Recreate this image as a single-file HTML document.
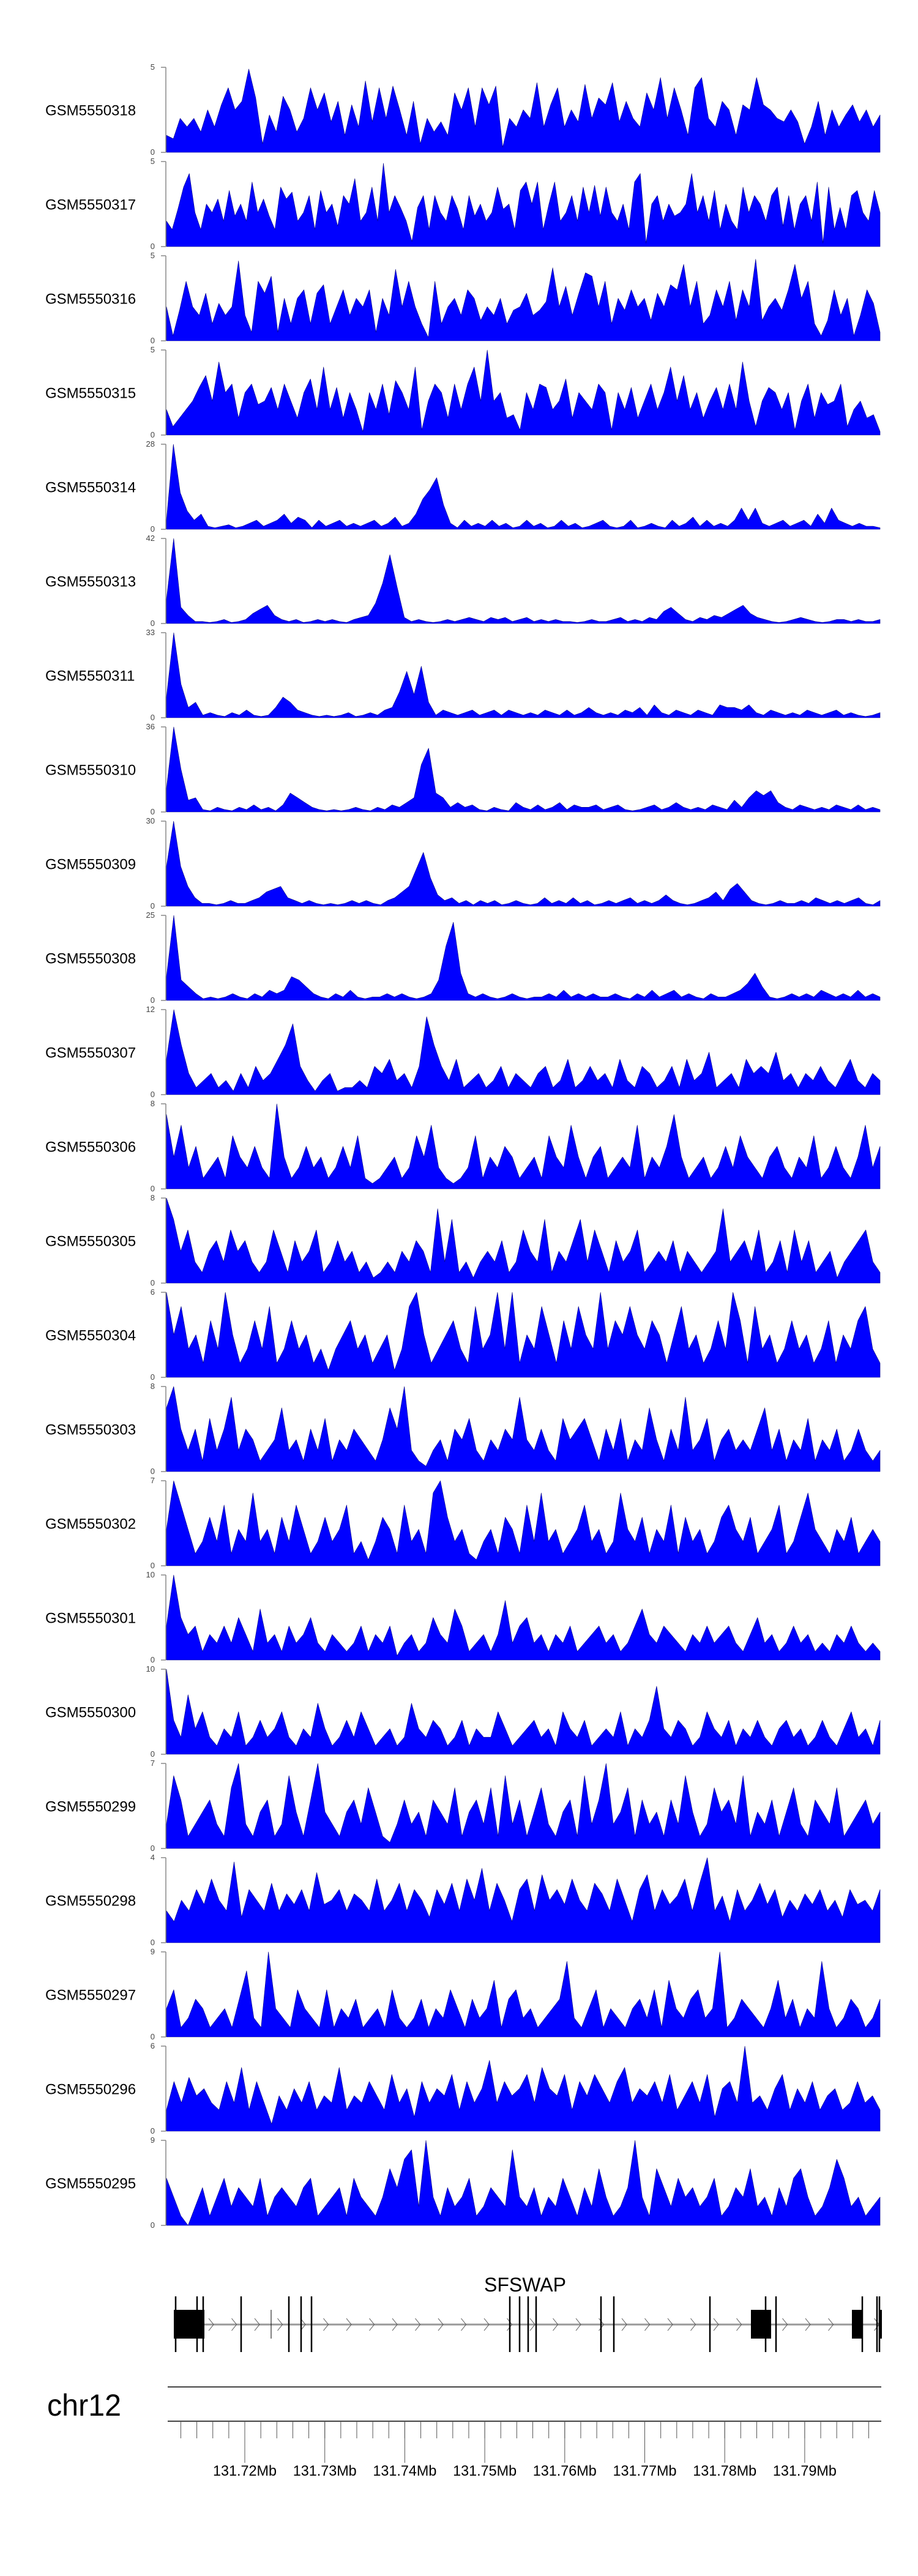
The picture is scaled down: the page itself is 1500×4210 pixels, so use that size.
<!DOCTYPE html>
<html><head><meta charset="utf-8">
<style>
html,body{margin:0;padding:0;background:#fff;}
svg{display:block;font-family:"Liberation Sans",Arial,sans-serif;}
</style></head>
<body>
<svg id="fig" width="1500" height="4210" viewBox="0 0 1500 4210" xmlns="http://www.w3.org/2000/svg">
<g id="tracks"></g>
<g id="gene">
  <text x="858" y="3745" font-size="32" text-anchor="middle" fill="#000">SFSWAP</text>
  <line x1="334" y1="3799" x2="1440" y2="3799" stroke="#999" stroke-width="3"/>
  <g id="chev"></g>
  <g id="exons"></g>
</g>
<g id="ideo">
  <text x="77" y="3948" font-size="50" fill="#000" textLength="121" lengthAdjust="spacingAndGlyphs">chr12</text>
  <line x1="274" y1="3901" x2="1440" y2="3901" stroke="#444" stroke-width="2"/>
  <line x1="274" y1="3957" x2="1440" y2="3957" stroke="#444" stroke-width="2"/>
  <g id="gticks"></g>
</g>
</svg>
<script>
const NS="http://www.w3.org/2000/svg";
const sampleNames=["GSM5550318","GSM5550317","GSM5550316","GSM5550315","GSM5550314","GSM5550313","GSM5550311","GSM5550310","GSM5550309","GSM5550308","GSM5550307","GSM5550306","GSM5550305","GSM5550304","GSM5550303","GSM5550302","GSM5550301","GSM5550300","GSM5550299","GSM5550298","GSM5550297","GSM5550296","GSM5550295"];
const yMax=[5,5,5,5,28,42,33,36,30,25,12,8,8,6,8,7,10,10,7,4,9,6,9];
const s318=[1.0,0.8,2.0,1.5,2.0,1.2,2.5,1.5,2.8,3.8,2.5,3.0,4.9,3.2,0.5,2.2,1.2,3.3,2.5,1.2,2.0,3.8,2.5,3.5,1.8,3.0,1.0,2.8,1.5,4.2,1.8,3.8,2.0,3.9,2.5,1.0,3.0,0.5,2.0,1.2,1.8,1.0,3.5,2.5,3.8,1.5,3.8,2.8,3.9,0.3,2.0,1.5,2.5,2.0,4.1,1.5,2.8,3.8,1.5,2.5,1.8,4.0,2.0,3.2,2.8,4.1,1.8,3.0,2.0,1.5,3.5,2.5,4.4,2.0,3.8,2.5,1.0,3.8,4.4,2.0,1.5,3.0,2.5,1.0,2.8,2.5,4.4,2.8,2.5,2.0,1.8,2.5,1.8,0.5,1.5,3.0,1.0,2.5,1.5,2.2,2.8,1.8,2.5,1.5,2.2];
const s317=[1.5,1.0,2.2,3.5,4.3,2.0,1.0,2.5,2.0,2.8,1.5,3.3,1.8,2.5,1.5,3.8,2.0,2.8,1.8,1.0,3.5,2.8,3.2,1.5,2.0,3.0,1.0,3.3,2.0,2.5,1.2,3.0,2.5,4.0,1.5,2.0,3.5,1.5,4.9,2.0,3.0,2.3,1.5,0.3,2.3,3.0,1.0,3.0,2.0,1.5,3.0,2.2,1.0,3.0,1.8,2.5,1.5,2.0,3.5,2.2,2.5,1.0,3.3,3.8,2.5,3.8,1.0,2.5,3.8,1.5,2.0,3.0,1.5,3.5,2.0,3.6,1.8,3.5,2.0,1.5,2.5,1.0,3.8,4.3,0.2,2.5,3.0,1.5,2.5,1.8,2.0,2.5,4.3,2.0,3.0,1.5,3.3,1.0,2.5,1.5,1.0,3.5,2.0,3.0,2.5,1.5,3.0,3.5,1.2,3.0,1.0,2.5,3.0,1.5,3.8,0.2,3.5,1.0,2.3,1.0,3.0,3.3,2.0,1.5,3.3,2.0];
const s316=[2.0,0.3,1.8,3.5,2.0,1.5,2.8,1.0,2.2,1.5,2.0,4.7,1.5,0.5,3.5,2.8,3.8,0.5,2.5,1.0,2.5,3.0,1.0,2.8,3.3,1.0,2.0,3.0,1.5,2.5,2.0,3.0,0.5,2.5,1.5,4.2,2.0,3.5,2.0,1.0,0.2,3.5,1.0,2.0,2.5,1.5,3.0,2.5,1.2,2.0,1.5,2.5,1.0,1.8,2.0,2.8,1.5,1.8,2.3,4.3,2.0,3.2,1.5,2.8,4.0,3.8,2.0,3.5,1.0,2.5,1.8,3.0,2.0,2.5,1.2,2.8,2.0,3.3,3.0,4.5,2.0,3.5,1.0,1.5,3.0,2.0,3.5,1.2,3.0,2.0,4.8,1.2,2.0,2.5,1.8,3.0,4.5,2.5,3.5,1.0,0.3,1.2,3.0,1.5,2.5,0.3,1.5,3.0,2.2,0.5];
const s315=[1.5,0.5,1.0,1.5,2.0,2.8,3.5,2.0,4.3,2.5,3.0,1.0,2.5,3.0,1.8,2.0,2.8,1.5,3.0,2.0,1.0,2.5,3.3,1.5,4.0,1.5,2.8,1.0,2.5,1.5,0.2,2.5,1.5,3.0,1.2,3.2,2.5,1.5,4.0,0.3,2.0,3.0,2.5,1.0,3.0,1.5,3.0,4.0,2.0,5.0,2.0,2.5,1.0,1.2,0.3,2.5,1.5,3.0,2.8,1.5,2.0,3.3,1.0,2.5,2.0,1.5,3.0,2.5,0.3,2.5,1.5,2.8,1.0,2.0,3.0,1.5,2.5,4.0,2.0,3.5,1.5,2.5,1.0,2.0,2.8,1.5,3.0,1.5,4.3,2.0,0.5,2.0,2.8,2.5,1.5,2.5,0.3,2.0,3.0,1.0,2.5,1.8,2.0,3.0,0.5,1.5,2.0,1.0,1.2,0.2];
const s314=[3,28,12,6,3,5,1,0.5,1,1.5,0.5,1,2,3,1,2,3,5,2,4,3,0.5,3,1,2,3,1,2,1,2,3,1,2,4,1,2,5,10,13,17,8,2,0.5,3,1,2,1,3,1,2,0.5,1,3,1,2,0.5,1,3,1,2,0.5,1,2,3,1,0.5,1,3,0.5,1,2,1,0.5,3,1,2,4,1,3,1,2,1,3,7,3,7,2,1,2,3,1,2,3,1,5,2,7,3,2,1,2,1,1,0.5];
const s313=[12,42,8,4,1,1,0.5,1,2,0.5,1,2,5,7,9,4,2,1,2,0.5,1,2,1,2,1,0.5,2,3,4,10,20,34,18,3,1,2,1,0.5,1,2,1,2,3,2,1,3,2,3,1,2,3,1,2,1,2,1,1,0.5,1,2,1,1,2,3,1,2,1,3,2,6,8,5,2,1,3,2,4,3,5,7,9,5,3,2,1,0.5,1,2,3,2,1,0.5,1,2,2,1,2,1,1,2];
const s311=[8,33,13,4,6,1,2,1,0.5,2,1,3,1,0.5,1,4,8,6,3,2,1,0.5,1,0.5,1,2,0.5,1,2,1,3,4,10,18,9,20,6,1,3,2,1,2,3,1,2,3,1,3,2,1,2,1,3,2,1,3,1,2,4,2,1,2,1,3,2,4,1,5,2,1,3,2,1,3,2,1,5,4,4,3,5,2,1,3,2,1,2,1,3,2,1,2,3,1,2,1,0.5,1,2];
const s310=[10,36,18,5,6,1,0.5,2,1,0.5,2,1,3,1,2,0.5,3,8,6,4,2,1,0.5,1,0.5,1,2,1,0.5,2,1,3,2,4,6,20,27,8,6,2,4,2,3,1,0.5,2,1,0.5,4,2,1,3,1,2,4,1,3,2,2,3,1,2,3,1,0.5,1,2,3,1,2,4,2,1,2,1,3,2,1,5,2,6,9,7,9,4,2,1,3,2,1,2,1,3,2,1,3,1,2,1];
const s309=[14,30,14,7,3,1,1,0.5,1,2,1,1,2,3,5,6,7,3,2,1,2,1,0.5,1,0.5,1,2,1,2,1,0.5,2,3,5,7,13,19,10,4,2,3,1,2,0.5,2,1,2,0.5,1,2,1,0.5,1,3,1,2,1,3,1,2,0.5,1,2,1,2,3,1,2,1,2,4,2,1,0.5,1,2,3,5,2,6,8,5,2,1,0.5,1,2,1,1,2,1,3,2,1,2,1,2,3,1,0.5,2];
const s308=[7,25,6,4,2,0.5,1,0.5,1,2,1,0.5,2,1,3,2,3,7,6,4,2,1,0.5,2,1,3,1,0.5,1,1,2,1,2,1,0.5,1,2,6,16,23,8,2,1,2,1,0.5,1,2,1,0.5,1,1,2,1,3,1,2,1,2,1,1,2,1,0.5,2,1,3,1,2,3,1,2,1,0.5,2,1,1,2,3,5,8,4,1,0.5,1,2,1,2,1,3,2,1,2,1,3,1,2,1];
const s307=[5,12,7,3,1,2,3,1,2,0.5,3,1,4,2,3,5,7,10,4,2,0.5,2,3,0.5,1,1,2,1,4,3,5,2,3,1,4,11,7,4,2,5,1,2,3,1,2,4,1,3,2,1,3,4,1,2,5,1,2,4,2,3,1,5,2,1,4,3,1,2,4,1,5,2,3,6,1,2,3,1,5,3,4,3,6,2,3,1,3,2,4,2,1,3,5,2,1,3,2];
const s306=[7,3,6,2,4,1,2,3,1,5,3,2,4,2,1,8,3,1,2,4,2,3,1,2,4,2,5,1,0.5,1,2,3,1,2,5,3,6,2,1,0.5,1,2,5,1,3,2,4,3,1,2,3,1,5,3,2,6,3,1,3,4,1,2,3,2,6,1,3,2,4,7,3,1,2,3,1,2,4,2,5,3,2,1,3,4,2,1,3,2,5,1,2,4,2,1,3,6,2,4];
const s305=[8,6,3,5,2,1,3,4,2,5,3,4,2,1,2,5,3,1,4,2,3,5,1,2,4,2,3,1,2,0.5,1,2,1,3,2,4,3,1,7,2,6,1,2,0.5,2,3,2,4,1,2,5,3,2,6,1,3,2,4,6,2,5,3,1,4,2,3,5,1,2,3,2,4,1,3,2,1,2,3,7,2,3,4,2,5,1,2,4,1,5,2,4,1,2,3,0.5,2,3,4,5,2,1];
const s304=[6,3,5,2,3,1,4,2,6,3,1,2,4,2,5,1,2,4,2,3,1,2,0.5,2,3,4,2,3,1,2,3,0.5,2,5,6,3,1,2,3,4,2,1,5,2,3,6,2,6,1,3,2,5,3,1,4,2,5,3,2,6,2,4,3,5,3,2,4,3,1,3,5,2,3,1,2,4,2,6,4,1,5,2,3,1,2,4,2,3,1,2,4,1,3,2,4,5,2,1];
const s303=[6,8,4,2,4,1,5,2,4,7,2,4,3,1,2,3,6,2,3,1,4,2,5,1,3,2,4,3,2,1,3,6,4,8,2,1,0.5,2,3,1,4,3,5,2,1,3,2,4,3,7,3,2,4,2,1,5,3,4,5,3,1,4,2,5,1,3,2,6,3,1,4,2,7,2,3,5,1,3,4,2,3,2,4,6,2,4,1,3,2,5,1,3,2,4,1,2,4,2,1,2];
const s302=[3,7,5,3,1,2,4,2,5,1,3,2,6,2,3,1,4,2,5,3,1,2,4,2,3,5,1,2,0.5,2,4,3,1,5,2,3,1,6,7,4,2,3,1,0.5,2,3,1,4,3,1,5,2,6,2,3,1,2,3,5,2,3,1,2,6,3,2,4,1,3,2,5,1,4,2,3,1,2,4,5,3,2,4,1,2,3,5,1,2,4,6,3,2,1,3,2,4,1,2,3,2];
const s301=[4,10,5,3,4,1,3,2,4,2,5,3,1,6,2,3,1,4,2,3,5,2,1,3,2,1,2,4,1,3,2,4,0.5,2,3,1,2,5,3,2,6,4,1,2,3,1,3,7,2,4,5,2,3,1,3,2,4,1,2,3,4,2,3,1,2,4,6,3,2,4,3,2,1,3,2,4,2,3,4,2,1,3,5,2,3,1,2,4,2,3,1,2,1,3,2,4,2,1,2,1];
const s300=[10,4,2,7,3,5,2,1,3,2,5,1,2,4,2,3,5,2,1,3,2,6,3,1,2,4,2,5,3,1,2,3,1,2,6,3,2,4,3,1,2,4,1,3,2,2,5,3,1,2,3,4,2,3,1,5,3,2,4,1,2,3,2,5,1,3,2,4,8,3,2,4,3,1,2,5,3,2,4,1,3,2,4,2,1,3,4,2,3,1,2,4,2,1,3,5,2,3,1,4];
const s299=[2,6,4,1,2,3,4,2,1,5,7,2,1,3,4,1,2,6,3,1,4,7,3,2,1,3,4,2,5,3,1,0.5,2,4,2,3,1,4,3,2,5,1,3,4,2,5,1,6,2,4,1,3,5,2,1,3,4,1,6,2,4,7,2,3,5,1,4,2,3,1,4,2,6,3,1,2,5,3,4,2,6,1,3,2,4,1,3,5,2,1,4,3,2,5,1,2,3,4,2,3];
const s298=[1.5,1.0,2.0,1.5,2.5,1.8,3.0,2.0,1.5,3.8,1.2,2.5,2.0,1.5,2.8,1.5,2.3,1.8,2.5,1.5,3.3,1.8,2.0,2.5,1.5,2.3,2.0,1.5,3.0,1.5,2.0,2.8,1.5,2.5,2.0,1.2,2.5,1.8,2.8,1.5,3.0,2.0,3.5,1.5,2.8,2.0,1.0,2.5,3.0,1.5,3.2,2.0,2.5,1.8,3.0,2.0,1.5,2.8,2.3,1.5,3.0,2.0,1.0,2.5,3.2,1.5,2.5,1.8,2.2,3.0,1.5,2.8,4.0,1.5,2.2,1.0,2.5,1.5,2.0,2.8,1.8,2.5,1.2,2.0,1.5,2.3,1.8,2.5,1.5,2.0,1.2,2.5,1.8,2.0,1.5,2.5];
const s297=[3,5,1,2,4,3,1,2,3,1,4,7,2,1,9,3,2,1,5,3,2,1,5,1,3,2,4,1,2,3,1,5,2,1,2,4,1,3,2,5,3,1,4,2,3,6,1,4,5,2,3,1,2,3,4,8,2,1,3,5,1,3,2,1,3,4,2,5,1,6,3,2,4,5,2,3,9,1,2,4,3,2,1,3,6,2,4,1,3,2,8,3,1,2,4,3,1,2,4];
const s296=[1.5,3.5,2.0,3.8,2.5,3.0,2.0,1.5,3.5,2.0,4.5,1.5,3.5,2.0,0.5,2.5,1.5,3.0,2.0,3.5,1.5,2.5,2.0,4.5,1.5,2.5,2.0,3.5,2.5,1.5,4.0,2.0,3.0,1.0,3.5,2.0,3.0,2.5,4.0,1.5,3.5,2.0,3.0,5.0,2.0,3.5,2.5,3.0,4.0,2.0,4.5,3.0,2.5,4.0,1.5,3.5,2.5,4.0,3.0,2.0,3.5,4.5,2.0,3.0,2.5,3.5,2.0,4.0,1.5,2.5,3.5,2.0,4.0,1.0,3.0,3.5,2.0,6.0,2.0,2.5,1.5,3.0,4.0,1.5,3.0,2.0,3.5,1.5,2.5,3.0,1.5,2.0,3.5,2.0,2.5,1.5];
const s295=[5,3,1,0,2,4,1,3,5,2,4,3,2,5,1,3,4,3,2,4,5,1,2,3,4,1,5,3,2,1,3,6,4,7,8,2,9,3,1,4,2,3,5,1,2,4,3,2,8,3,2,4,1,3,2,5,3,1,4,2,6,3,1,2,4,9,3,1,6,4,2,5,3,4,2,3,5,1,2,4,3,6,2,3,1,4,2,5,6,3,1,2,4,7,5,2,3,1,2,3];
const seriesList=[s318,s317,s316,s315,s314,s313,s311,s310,s309,s308,s307,s306,s305,s304,s303,s302,s301,s300,s299,s298,s297,s296,s295];
const majorTicks=[131.72,131.73,131.74,131.75,131.76,131.77,131.78,131.79];
const majorLabels=["131.72Mb","131.73Mb","131.74Mb","131.75Mb","131.76Mb","131.77Mb","131.78Mb","131.79Mb"];

const X0=272,X1=1438,TOP0=110,PITCH=154,TH=139;
function xScale(i,n){return X0+(X1-X0)*i/(n-1);}
function yScale(v,max,top){return top+TH-TH*Math.min(v,max)/max;}
function mk(tag,attrs,parent){const e=document.createElementNS(NS,tag);for(const k in attrs)e.setAttribute(k,attrs[k]);parent.appendChild(e);return e;}

const tracks=document.getElementById('tracks');
seriesList.forEach((vals,t)=>{
  const top=TOP0+PITCH*t,bot=top+TH,max=yMax[t];
  const g=mk('g',{},tracks);
  
  
  const lab=mk('text',{x:74,y:top+TH/2+9,'font-size':24,fill:'#000'},g);
  lab.textContent=sampleNames[t];
  
  
  const ax=mk('line',{x1:271,y1:top,x2:271,y2:bot,stroke:'#888','stroke-width':1.5},g);
  
  
  [[max,top],[0,bot]].forEach(([v,y])=>{
    const tk=mk('line',{x1:263,y1:y,x2:271,y2:y,stroke:'#888','stroke-width':1.5},g);
    
    
    const tl=mk('text',{x:253,y:y+4,'font-size':13,'text-anchor':'end',fill:'#444'},g);
    tl.textContent=String(v);
    
    
  });
  let pts=X0+','+bot;
  vals.forEach((v,i)=>{pts+=' '+xScale(i,vals.length).toFixed(1)+','+yScale(v,max,top).toFixed(1);});
  pts+=' '+X1+','+bot;
  const area=mk('polygon',{points:pts,fill:'#0000ff',stroke:'#000080','stroke-width':0.6,'stroke-linejoin':'round'},g);
  
  
});

// gene model
const exons=document.getElementById('exons');
[[284,334],[1227,1260],[1392,1409],[1437,1441]].forEach(([a,b])=>{
  const r=mk('rect',{x:a,y:3775,width:b-a,height:47,fill:'#000'},exons);
  
  
});
[287,322,332,394,472,492,509,833,849,863,876,982,1003,1160,1251,1268,1409,1433,1437].forEach(x=>{
  const l=mk('line',{x1:x,y1:3753,x2:x,y2:3844,stroke:'#000','stroke-width':2.5},exons);
  
  
});
const sl=mk('line',{x1:443,y1:3775,x2:443,y2:3822,stroke:'#000','stroke-width':1},exons);


const chev=document.getElementById('chev');
for(let x=345;x<1435;x+=37.5){
  if((x>1222&&x<1262)||(x>1388&&x<1412))continue;
  const p=mk('polyline',{points:(x-4)+',3789 '+(x+4)+',3799 '+(x-4)+',3809',fill:'none',stroke:'#555','stroke-width':1},chev);
  
  
}

// genome axis
const gt=document.getElementById('gticks');
function gx(mb){return 400+(mb-131.72)*13070;}
for(let k=0;k<=43;k++){
  const mb=131.712+0.002*k;
  const x=gx(mb);
  const t=mk('line',{x1:x,y1:3957,x2:x,y2:3985,stroke:'#555','stroke-width':1},gt);
  
  
}
majorTicks.forEach((mb,i)=>{
  const x=gx(mb);
  const t=mk('line',{x1:x,y1:3957,x2:x,y2:4025,stroke:'#555','stroke-width':1},gt);
  
  
  const l=mk('text',{x:x,y:4046,'font-size':24,'text-anchor':'middle',fill:'#000',textLength:104,lengthAdjust:'spacingAndGlyphs'},gt);
  l.textContent=majorLabels[i];
  
  
});
</script>
</body></html>
